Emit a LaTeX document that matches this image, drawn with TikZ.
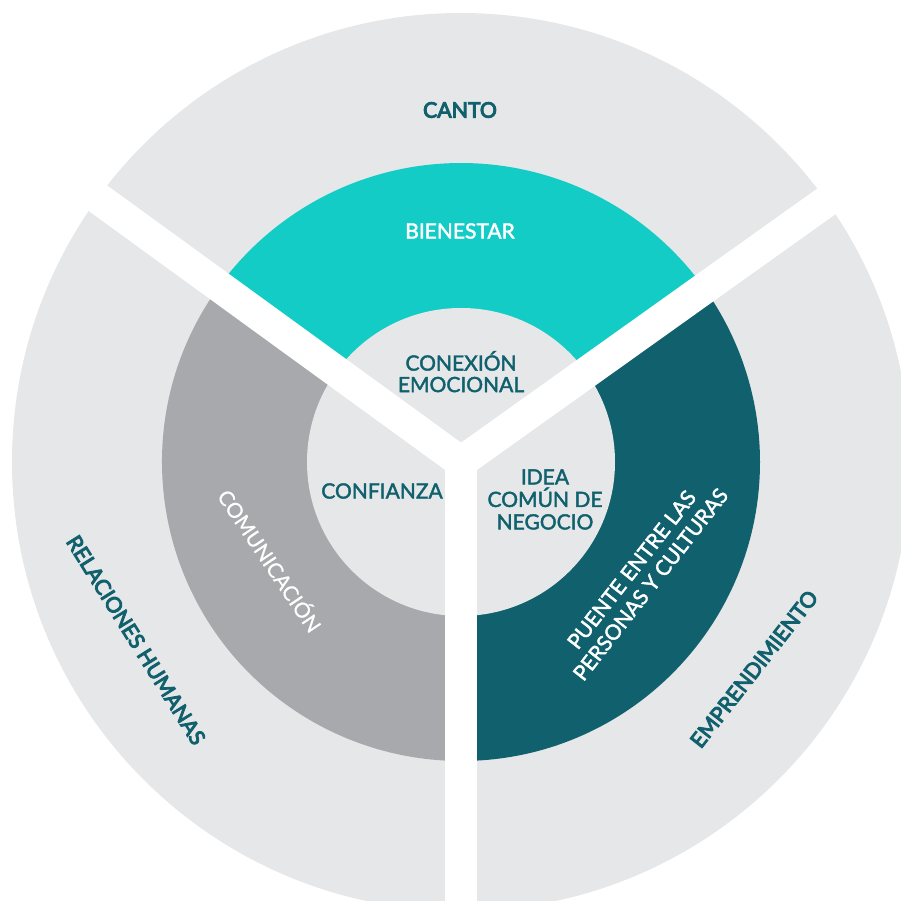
\documentclass[tikz,border=0pt]{standalone}
\usepackage{fontspec}
\setmainfont{Lato}
\newfontfamily\heavyfont[FakeBold=4.5]{Lato}
\newfontfamily\medfont[FakeBold=2]{Lato}
\newfontfamily\regfont[FakeBold=0.7]{Lato}
\definecolor{lgray}{HTML}{E6E7E8}
\definecolor{tealA}{HTML}{14CCC6}
\definecolor{mgray}{HTML}{A7A9AC}
\definecolor{dteal}{HTML}{10616D}
\begin{document}
\begin{tikzpicture}[x=1pt,y=1pt,
  bandline/.style={white,line width=31.5pt},
  lbl/.style={inner sep=0pt,align=center},
  darklbl/.style={lbl,text=dteal},
  whitelbl/.style={lbl,text=white},
  boldtxt/.style={font=\heavyfont\fontsize{21.3}{22.5}\selectfont},
  medtxt/.style={font=\medfont\fontsize{21}{22.5}\selectfont}]
\useasboundingbox (-461,-439) rectangle (440,462);
\clip (-461,-439) rectangle (440,462);
\fill[lgray] (0,0) circle (449);
\fill[tealA] (0,0) -- (35.5:299) arc[start angle=35.5, end angle=144, radius=299] -- cycle;
\fill[mgray] (0,0) -- (144:299) arc[start angle=144, end angle=270, radius=299] -- cycle;
\fill[dteal] (0,0) -- (270:299) arc[start angle=270, end angle=395.5, radius=299] -- cycle;
\fill[lgray] (0,0) circle (154);
\coordinate (c) at (0,0);
\coordinate (e1) at (35.5:560);
\coordinate (e2) at (144:560);
\coordinate (e3) at (270:560);
\draw[bandline] (c) -- (e1);
\draw[bandline] (c) -- (e2);
\draw[bandline] (c) -- (e3);
\fill[white] (c) circle (15.5);
% outer labels
\node[darklbl,boldtxt] (canto) at (-1,352) {CANTO};
\node[darklbl,boldtxt,rotate=-58] (rel) at (-325,-178) {RELACIONES HUMANAS};
\node[darklbl,boldtxt,rotate=52] (emp) at (293,-207) {EMPRENDIMIENTO};
% ring labels
\node[whitelbl,medtxt] (bien) at (-1,231) {BIENESTAR};
\node[whitelbl,font=\regfont\fontsize{20.8}{22.5}\selectfont,rotate=-56] (comu) at (-190,-98) {COMUNICACIÓN};
\node[whitelbl,font=\medfont\fontsize{21}{24}\selectfont,rotate=52] (puente) at (180,-115) {PUENTE ENTRE LAS\\PERSONAS Y CULTURAS};
% inner labels
\node[darklbl,font=\medfont\fontsize{21}{21.5}\selectfont] (conex) at (0,90.3) {CONEXIÓN\\EMOCIONAL};
\node[darklbl,medtxt] (conf) at (-79,-29) {CONFIANZA};
\node[darklbl,medtxt] (idea) at (84,-37.5) {IDEA\\COMÚN DE\\NEGOCIO};
\end{tikzpicture}
\end{document}
